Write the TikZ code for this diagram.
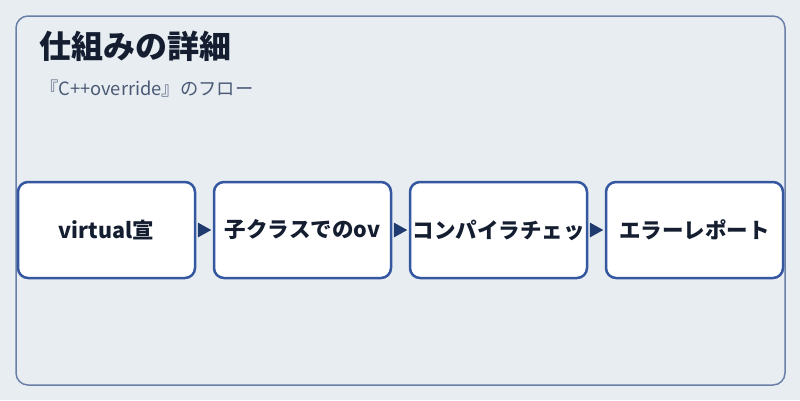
\documentclass[tikz,border=0pt]{standalone}
\usepackage{fontspec}
\newfontfamily\jp{Noto Sans CJK JP}
\usetikzlibrary{arrows.meta}
\definecolor{bg}{HTML}{E8EDF2}
\definecolor{frame}{HTML}{6A7FA8}
\definecolor{boxline}{HTML}{3457A0}
\definecolor{arrowc}{HTML}{1E3A6E}
\definecolor{titlec}{HTML}{141E30}
\definecolor{subc}{HTML}{4A5A75}
\tikzset{
  stepbox/.style={draw=boxline, line width=2.5pt, fill=white, rounded corners=10pt,
    minimum width=177pt, minimum height=96pt, inner sep=0pt, text=titlec,
    font=\jp\bfseries\fontsize{21.5}{24}\selectfont}
}
\begin{document}
\begin{tikzpicture}[x=1pt,y=-1pt]
\useasboundingbox (0,0) rectangle (800,400);
\fill[bg] (0,0) rectangle (800,400);
\draw[frame, line width=1.5pt, rounded corners=12pt] (16,16) rectangle (785,385);
\node[anchor=west, text=titlec, font=\jp\bfseries\fontsize{32}{36}\selectfont, inner sep=0pt] (title) at (39,46) {仕組みの詳細};
\node[anchor=west, text=subc, font=\jp\fontsize{18.3}{21}\selectfont, inner sep=0pt] (sub) at (40,89) {『C++override』のフロー};
\node[stepbox] (b1) at (106.5,230) {virtual宣};
\node[stepbox] (b2) at (302.5,230) {子クラスでのov};
\node[stepbox] (b3) at (498.5,230) {コンパイラチェッ};
\node[stepbox] (b4) at (694.5,230) {エラーレポート};
\foreach \a/\b in {b1/b2,b2/b3,b3/b4}{
  \fill[arrowc] ([xshift=1.5pt,yshift=-7.5pt]\a.east) -- ([xshift=1.5pt,yshift=7.5pt]\a.east) -- ([xshift=-1.5pt]\b.west) -- cycle;
}
\end{tikzpicture}
\end{document}
